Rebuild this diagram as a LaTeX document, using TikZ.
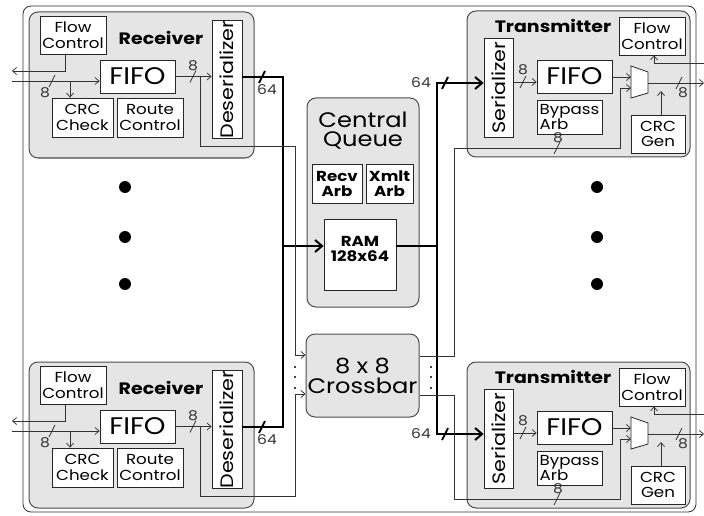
\documentclass[tikz,border=0pt]{standalone}
\usepackage{fontspec}
\setmainfont{Poppins}[FakeStretch=1.15]
\usetikzlibrary{arrows.meta,calc}

\newcommand\wslash[1]{\draw[wire] ($(#1)+(-3,6)$) -- ($(#1)+(3,-6)$);}
\newcommand\bslash[1]{\draw[bus,line width=1.8pt] ($(#1)+(-3,6)$) -- ($(#1)+(3,-6)$);}

\begin{document}
\begin{tikzpicture}[x=1pt,y=-1pt,
  frame/.style={draw=black!80, line width=0.8pt, rounded corners=8pt},
  unit/.style={draw=black!70, fill=black!10, line width=1pt, rounded corners=9pt, inner sep=0pt},
  blk/.style={draw=black!85, fill=white, line width=0.8pt, inner sep=0pt, align=center,
              font=\fontsize{14.5}{15.5}\selectfont},
  big/.style={font=\fontsize{24}{24}\selectfont},
  heavy/.style={font=\bfseries\fontsize{14.5}{15}\selectfont},
  title/.style={font=\bfseries\fontsize{16.5}{16.5}\selectfont, inner sep=0pt},
  vtext/.style={font=\fontsize{18}{18}\selectfont},
  wire/.style={draw=black!80, line width=0.75pt},
  bus/.style={draw=black, line width=2.4pt},
  arr/.style={-{Straight Barb[length=4pt,width=7pt]}},
  busarr/.style={-{Straight Barb[length=7pt,width=12pt,line width=2pt]}},
  busarr2/.style={{Straight Barb[length=7pt,width=12pt,line width=2pt]}-{Straight Barb[length=7pt,width=12pt,line width=2pt]}},
  tag/.style={font=\fontsize{13.5}{13.5}\selectfont, inner sep=0pt, text=black!80},
  bigdot/.style={circle, fill=black, inner sep=0pt, minimum size=12pt},
  smalldot/.style={circle, fill=black, inner sep=0pt, minimum size=2.4pt}]

\useasboundingbox (0,0) rectangle (704,516);
\draw[frame] (23,6) rectangle (696,512);

% ---------------- receivers ----------------
\foreach \p/\dy in {a/0,b/350}{
  \begin{scope}[shift={(0,\dy)}]
    \node[unit, minimum width=225, minimum height=146] (\p rx) at (141.5,85) {};
    \node[title] (\p rxt) at (161,38) {Receiver};
    \node[blk, minimum width=66, minimum height=38] (\p fc) at (73,35) {Flow\\Control};
    \node[blk, big, minimum width=75, minimum height=33] (\p ff) at (137.5,76.5) {FIFO};
    \node[blk, minimum width=61, minimum height=39] (\p crc) at (82.5,117.5) {CRC\\Check};
    \node[blk, minimum width=66, minimum height=39] (\p rc) at (150,117.5) {Route\\Control};
    \node[blk, vtext, minimum width=30, minimum height=115] (\p des) at (227,79.5) {\rotatebox{90}{Deserializer}};
    \coordinate (\p fco) at (12,71);
    \coordinate (\p in) at (12,81);
    \coordinate (\p br) at (70,81);
    \coordinate (\p tap) at (200,76.5);
    \coordinate (\p low) at (200,146);
    \coordinate (\p bk) at (283,77);
    \coordinate (\p rs1) at (52,81);
    \coordinate (\p rs2) at (193,76.5);
    \coordinate (\p rs3) at (262,77);

    \draw[wire,arr] ([xshift=-8pt]\p fc.south) |- (\p fco);
    \draw[wire,arr] (\p in) -- (\p in -| \p ff.west);
    \draw[wire,arr] (\p br) -- (\p br |- \p crc.north);
    \draw[wire,arr] (\p ff.east) -- (\p ff.east -| \p des.west);
    \wslash{\p rs1}
    \wslash{\p rs2}
    \node[tag] (\p rt1) at (45,93) {8};
    \node[tag] (\p rt2) at (193,66) {8};
    \node[tag] (\p rt3) at (267,90) {64};
  \end{scope}
}

% ---------------- transmitters ----------------
\foreach \p/\dy in {a/0,b/351}{
  \begin{scope}[shift={(0,\dy)}]
    \node[unit, minimum width=223, minimum height=146] (\p tx) at (578.5,84) {};
    \node[title] (\p txt) at (553,26) {Transmitter};
    \node[blk, minimum width=66, minimum height=38] (\p tfc) at (652,36) {Flow\\Control};
    \node[blk, vtext, minimum width=29, minimum height=99] (\p ser) at (498.5,87.5) {\rotatebox{90}{Serializer}};
    \node[blk, big, minimum width=75, minimum height=33] (\p tff) at (574.5,76.5) {FIFO};
    \node[blk, align=left, minimum width=65, minimum height=34] (\p byp) at (569.5,117) {Bypass\\Arb};
    \node[blk, minimum width=54, minimum height=38] (\p gen) at (658,134) {CRC\\Gen};
    \draw[blk] (631,66) -- (648,72) -- (648,93) -- (631,98) -- cycle;
    \coordinate (\p mx1) at (631,77);
    \coordinate (\p mx2) at (631,88);
    \coordinate (\p mxo) at (648,83);
    \coordinate (\p mxb) at (661,91);
    \coordinate (\p sf) at (513,82);
    \coordinate (\p tk) at (437,83);
    \coordinate (\p byl) at (620,148);
    \coordinate (\p byin) at (620,88);
    \coordinate (\p out) at (704,83);
    \coordinate (\p fin) at (704,63);
    \coordinate (\p ts1) at (523,82);
    \coordinate (\p ts2) at (679,83);
    \coordinate (\p ts3) at (557,148);
    \coordinate (\p ts4) at (445,83);

    \draw[wire,arr] (\p sf) -- (\p sf -| \p tff.west);
    \draw[wire,arr] (\p tff.east |- \p mx1) -- (\p mx1);
    \draw[wire,arr] (\p mxo) -- (\p out);
    \draw[wire,arr] ([xshift=3pt]\p gen.north) -- (\p mxb);
    \draw[wire,arr] (\p fin) -| ([xshift=2pt]\p tfc.south);
    \wslash{\p ts1}
    \wslash{\p ts2}
    \node[tag] (\p tt1) at (523,70) {8};
    \node[tag] (\p tt2) at (683,93) {8};
    \node[tag] (\p tt3) at (558,138) {8};
    \node[tag] (\p tt4) at (421,83) {64};
  \end{scope}
}

% ---------------- central queue ----------------
\node[unit, minimum width=112, minimum height=209] (cq) at (363,202.5) {};
\node[align=center, inner sep=0pt, font=\fontsize{21}{19}\selectfont] (cqt) at (363,131) {Central\\Queue};
\node[blk, heavy, minimum width=50, minimum height=39] (ra) at (337,183.5) {Recv\\Arb};
\node[blk, heavy, minimum width=47, minimum height=39] (xa) at (389.5,183.5) {Xmlt\\Arb};
\node[blk, minimum width=72, minimum height=71] (ram) at (360,254.5) {};
\node[heavy, align=center, inner sep=0pt] (ramt) at (360,249) {RAM\\128x64};

% ---------------- crossbar ----------------
\node[unit, align=center, font=\fontsize{21}{20}\selectfont, minimum width=113, minimum height=83] (xb) at (362.5,375.5) {8 x 8\\Crossbar};

% ---------------- wide buses ----------------
\draw[bus] ([yshift=2.5pt]ades.east) -- (abk) -- (bbk) -- ([yshift=2.5pt]bdes.east);
\bslash{ars3}
\bslash{brs3}
\coordinate (rin) at (283,246);
\coordinate (ro) at (437,246);
\draw[bus,busarr] (rin) -- (rin -| ram.west);
\draw[bus] (ram.east |- ro) -- (ro);
\draw[bus,busarr2] (atk -| aser.west) -- (atk) -- (btk) -- (btk -| bser.west);
\bslash{ats4}
\bslash{bts4}

% ---------------- crossbar wiring ----------------
\coordinate (xi1) at (295,355);
\coordinate (xi2) at (295,394);
\coordinate (xo1) at (454,356);
\coordinate (xo2) at (454,395);
\draw[wire,arr] (atap) -- (alow) -| (xi1) -- (xi1 -| xb.west);
\draw[wire,arr] (btap) -- (blow) -| (xi2) -- (xi2 -| xb.west);
\draw[wire,arr] (xo1 -| xb.east) -- (xo1) |- (abyl) -- (abyin) -- (amx2);
\draw[wire,arr] (xo2 -| xb.east) -- (xo2) |- (bbyl) -- (bbyin) -- (bmx2);
\wslash{ats3}
\wslash{bts3}

% ---------------- port ellipses ----------------
\foreach \y [count=\i] in {367,377,388}{
  \node[smalldot] (ld\i) at (295,\y) {};
  \node[smalldot] (rd\i) at (431,\y) {};
}
\foreach \y [count=\i] in {187,237,284}{
  \node[bigdot] (lb\i) at (125,\y) {};
  \node[bigdot] (rb\i) at (597,\y) {};
}
\end{tikzpicture}
\end{document}
